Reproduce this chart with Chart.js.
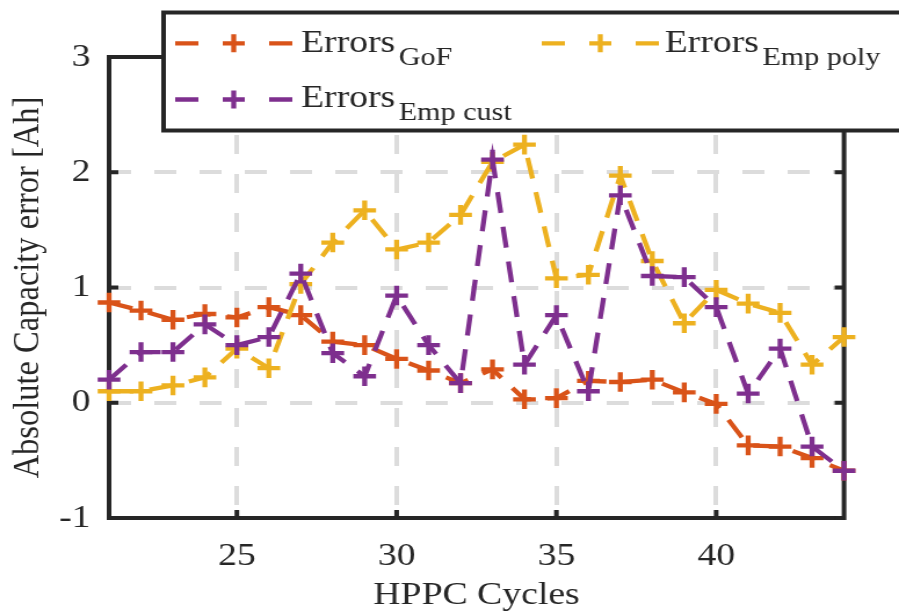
<!DOCTYPE html>
<html>
<head>
<meta charset="utf-8">
<script src="https://cdn.jsdelivr.net/npm/chart.js@4"></script>
<style>
  html, body { margin: 0; padding: 0; background: #fff; overflow: hidden; }
  #c { display: block; }
</style>
</head>
<body>
<canvas id="c" width="775" height="614" style="width:899px;height:614px"></canvas>
<script>
// HPPC cycle index
const cycles = [21, 22, 23, 24, 25, 26, 27, 28, 29, 30, 31, 32, 33, 34, 35, 36, 37, 38, 39, 40, 41, 42, 43, 44];

// Absolute capacity error [Ah] per estimation method
const errGoF = [0.87, 0.80, 0.72, 0.77, 0.74, 0.83, 0.76, 0.53, 0.50, 0.38, 0.28, 0.17,
                0.29, 0.03, 0.04, 0.19, 0.18, 0.20, 0.09, -0.01, -0.37, -0.38, -0.48, -0.59];
const errEmpPoly = [0.10, 0.10, 0.15, 0.22, 0.47, 0.30, 1.03, 1.39, 1.67, 1.33, 1.39, 1.63,
                    2.09, 2.24, 1.08, 1.11, 1.97, 1.23, 0.69, 0.98, 0.86, 0.78, 0.33, 0.57];
const errEmpCust = [0.20, 0.44, 0.44, 0.68, 0.50, 0.57, 1.12, 0.43, 0.23, 0.93, 0.50, 0.17,
                    2.11, 0.33, 0.76, 0.10, 1.80, 1.10, 1.09, 0.83, 0.08, 0.47, -0.38, -0.59];

// Axis ticks
const xTicks = [25, 30, 35, 40];
const yTicks = [-1, 0, 1, 2, 3];

// Series labels (main text + subscript) and colours
const labelMain = 'Errors';
const labelSubs = ['GoF', 'Emp poly', 'Emp cust'];
const seriesColors = ['#D95319', '#EDB120', '#7E2F8E'];

const INK = '#262626';
const SERIF = '"Liberation Serif", "Times New Roman", serif';
const LINE_W = 4.3;

function series(values, i, order) {
  return {
    label: labelMain + ' ' + labelSubs[i],
    data: cycles.map((c, k) => ({ x: c, y: values[k] })),
    borderColor: seriesColors[i],
    backgroundColor: seriesColors[i],
    borderWidth: LINE_W,
    borderDash: [21, 14],
    pointStyle: 'cross',
    pointRadius: 9.8,
    pointBorderWidth: LINE_W,
    pointBorderColor: seriesColors[i],
    pointBackgroundColor: seriesColors[i],
    tension: 0,
    clip: false,
    order: order
  };
}

// Axes box with inward tick marks, drawn underneath the data
const frame = {
  id: 'frame',
  beforeDatasetsDraw(chart) {
    const { ctx, chartArea: a, scales } = chart;
    const x = scales.x, y = scales.y;
    const L = 8;
    ctx.save();
    ctx.setLineDash([]);
    ctx.strokeStyle = INK;
    ctx.lineWidth = 4;
    ctx.strokeRect(a.left, a.top, a.right - a.left, a.bottom - a.top);
    ctx.beginPath();
    y.ticks.forEach(t => {
      const p = y.getPixelForValue(t.value);
      ctx.moveTo(a.left, p); ctx.lineTo(a.left + L, p);
      ctx.moveTo(a.right, p); ctx.lineTo(a.right - L, p);
    });
    x.ticks.forEach(t => {
      const p = x.getPixelForValue(t.value);
      ctx.moveTo(p, a.bottom); ctx.lineTo(p, a.bottom - L);
      ctx.moveTo(p, a.top); ctx.lineTo(p, a.top + L);
    });
    ctx.stroke();
    ctx.restore();
  }
};

// Two-column legend with subscripted labels
const legendEntries = [
  { ds: 0, sx: 151, cy: 43.3, tx: 259.5, base: 52 },
  { ds: 1, sx: 467, cy: 43.3, tx: 573, base: 52 },
  { ds: 2, sx: 151, cy: 99.5, tx: 259.5, base: 107 }
];
const legendBox = {
  id: 'legendBox',
  afterDraw(chart) {
    const ctx = chart.ctx;
    ctx.save();
    ctx.setLineDash([]);
    ctx.fillStyle = '#fff';
    ctx.fillRect(141, 12.5, 800, 118);
    ctx.strokeStyle = INK;
    ctx.lineWidth = 4;
    ctx.strokeRect(141, 12.5, 800, 118);
    legendEntries.forEach(e => {
      const ds = chart.data.datasets[e.ds];
      const col = ds.borderColor;
      ctx.strokeStyle = col;
      ctx.lineWidth = LINE_W;
      ctx.beginPath();
      ctx.moveTo(e.sx, e.cy); ctx.lineTo(e.sx + 20, e.cy);
      ctx.moveTo(e.sx + 81, e.cy); ctx.lineTo(e.sx + 101, e.cy);
      const px = e.sx + 50.5, r = 9.5;
      ctx.moveTo(px - r, e.cy); ctx.lineTo(px + r, e.cy);
      ctx.moveTo(px, e.cy - 9); ctx.lineTo(px, e.cy + 9);
      ctx.stroke();
      ctx.fillStyle = INK;
      ctx.textBaseline = 'alphabetic';
      ctx.textAlign = 'left';
      ctx.font = '32.5px ' + SERIF;
      ctx.fillText(labelMain, e.tx, e.base);
      const w = ctx.measureText(labelMain).width;
      ctx.font = '26px ' + SERIF;
      ctx.fillText(labelSubs[e.ds], e.tx + w + 3, e.base + 13.4);
    });
    ctx.restore();
  }
};

const tickFont = { family: SERIF, size: 32.5, lineHeight: 1.2 };
const titleFont = { family: SERIF, size: 32.5, lineHeight: 1.0 };

new Chart(document.getElementById('c'), {
  type: 'line',
  data: {
    datasets: [
      series(errGoF, 0, 3),
      series(errEmpPoly, 1, 2),
      series(errEmpCust, 2, 1)
    ]
  },
  options: {
    responsive: false,
    animation: false,
    events: [],
    devicePixelRatio: 1,
    layout: { padding: { left: 0, top: 57, right: 47.4, bottom: 0 } },
    plugins: { legend: { display: false }, tooltip: { enabled: false } },
    scales: {
      x: {
        type: 'linear',
        min: 21,
        max: 44,
        afterBuildTicks: s => { s.ticks = xTicks.map(v => ({ value: v })); },
        afterFit: s => { s.height = 96; },
        ticks: { color: INK, font: tickFont, padding: 19, maxRotation: 0, callback: v => String(v) },
        grid: { color: '#dcdcdc', lineWidth: 4, drawTicks: false, borderDash: [19, 20] },
        border: { display: false, dash: [19, 20] },
        title: { display: true, text: 'HPPC Cycles', color: INK, font: titleFont, padding: { top: 0, bottom: 2 } }
      },
      y: {
        type: 'linear',
        min: -1,
        max: 3,
        afterBuildTicks: s => { s.ticks = yTicks.map(v => ({ value: v })); },
        afterFit: s => { s.width = 94; },
        ticks: { color: INK, font: tickFont, padding: 16, callback: v => String(v) },
        grid: { color: '#dcdcdc', lineWidth: 4, drawTicks: false, borderDash: [19, 20] },
        border: { display: false, dash: [19, 20] },
        title: { display: true, text: 'Absolute Capacity error [Ah]', color: INK, font: titleFont, padding: { top: 8, bottom: 0 } }
      }
    }
  },
  plugins: [frame, legendBox]
});
</script>
</body>
</html>
